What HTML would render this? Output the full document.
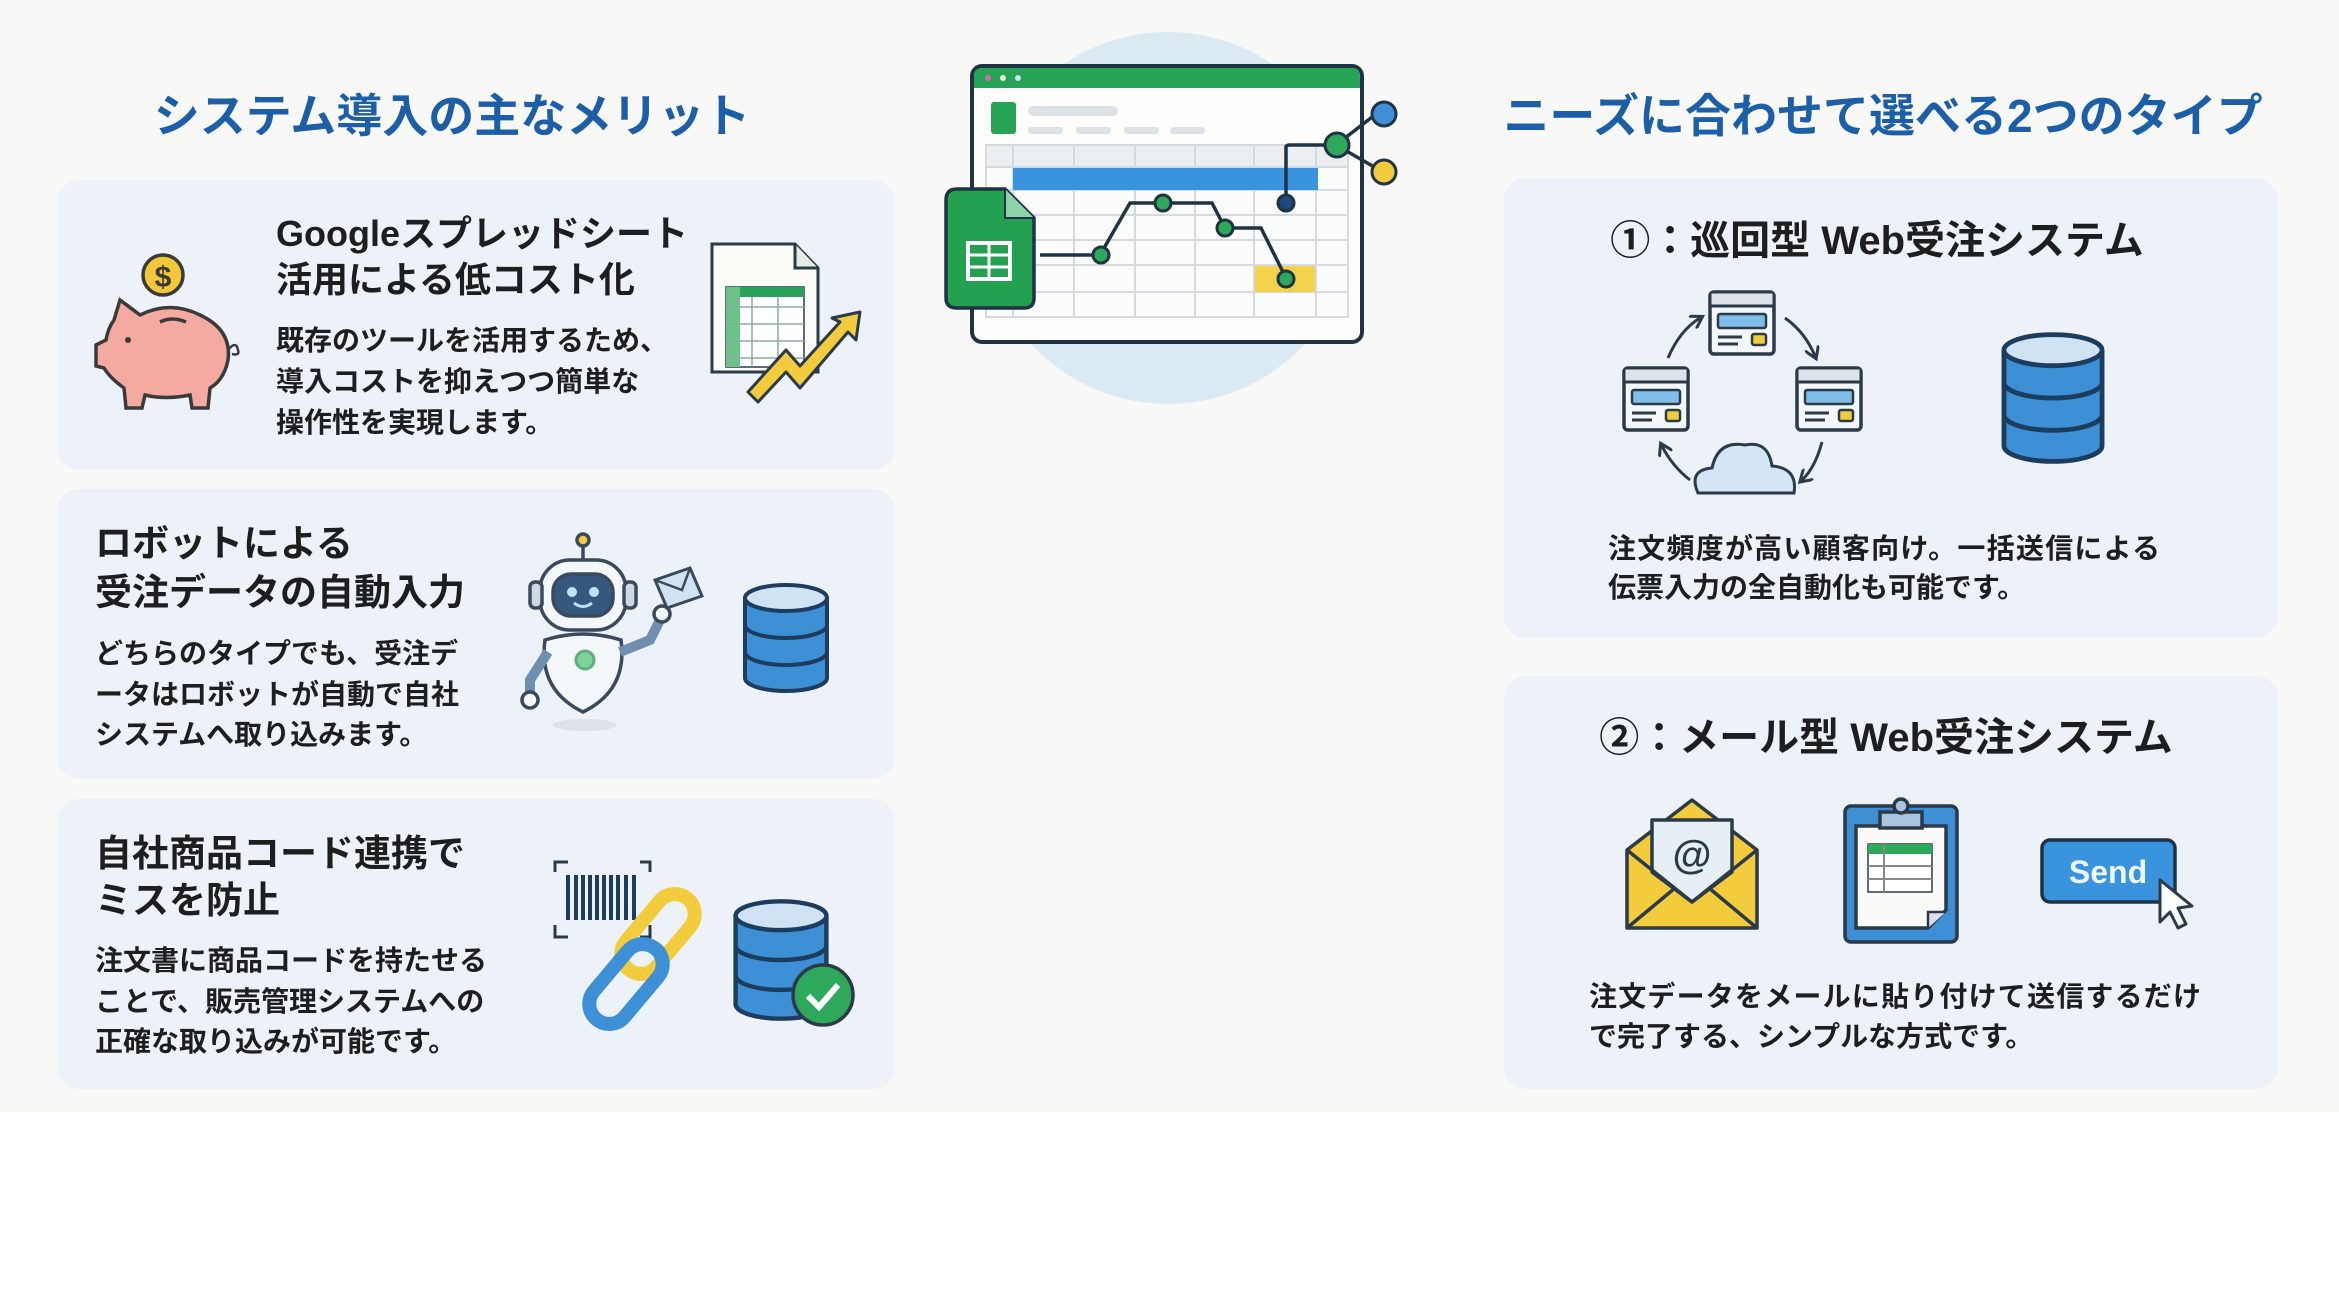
<!DOCTYPE html>
<html><head><meta charset="utf-8"><style>
html,body{margin:0;padding:0;background:#fff}
svg{display:block}
text{font-family:"Liberation Sans","Noto Sans CJK JP",sans-serif;font-weight:700}
</style></head><body>
<svg width="2339" height="1310" viewBox="0 0 2339 1310" xmlns="http://www.w3.org/2000/svg">
<defs>
<symbol id="db" viewBox="0 0 90 112">
<path d="M4 16 V96 A41 13 0 0 0 86 96 V16" fill="#3d8fd6" stroke="#1c3d5e" stroke-width="4"/>
<path d="M4 43 A41 13 0 0 0 86 43 M4 70 A41 13 0 0 0 86 70" fill="none" stroke="#1c3d5e" stroke-width="4"/>
<ellipse cx="45" cy="16" rx="41" ry="13" fill="#cfe3f5" stroke="#1c3d5e" stroke-width="4"/>
</symbol>
<symbol id="win" viewBox="0 0 68 66">
<rect x="2" y="2" width="64" height="62" rx="4" fill="#f4f7fa" stroke="#2b3a48" stroke-width="3.5"/>
<rect x="3.5" y="3.5" width="61" height="12" fill="#dde3ea"/>
<line x1="2" y1="16" x2="66" y2="16" stroke="#2b3a48" stroke-width="3"/>
<rect x="10" y="24" width="48" height="14" rx="2" fill="#7fbde9" stroke="#2b3a48" stroke-width="2.5"/>
<line x1="10" y1="47" x2="34" y2="47" stroke="#2b3a48" stroke-width="3"/>
<line x1="10" y1="54" x2="30" y2="54" stroke="#2b3a48" stroke-width="3"/>
<rect x="44" y="44" width="14" height="11" rx="2" fill="#f2cc3c" stroke="#2b3a48" stroke-width="2.5"/>
</symbol>
<marker id="ah" viewBox="0 0 10 10" refX="6" refY="5" markerWidth="5" markerHeight="5" orient="auto"><path d="M0 0 L8 5 L0 10" fill="none" stroke="#2b3a48" stroke-width="2"/></marker>
</defs>
<rect width="2339" height="1112" fill="#f8f9f6"/>
<rect y="1112" width="2339" height="198" fill="#ffffff"/>

<text x="452" y="132" font-size="46" fill="#1d5ea8" text-anchor="middle">システム導入の主なメリット</text>
<text x="1883" y="132" font-size="46" fill="#1d5ea8" text-anchor="middle">ニーズに合わせて選べる2つのタイプ</text>

<rect x="57" y="180" width="838" height="290" rx="22" fill="#edf2f8"/>
<rect x="57" y="489" width="838" height="290" rx="22" fill="#edf2f8"/>
<rect x="57" y="799" width="838" height="290" rx="22" fill="#edf2f8"/>
<rect x="1504" y="178" width="774" height="460" rx="22" fill="#edf2f8"/>
<rect x="1504" y="676" width="774" height="413" rx="22" fill="#edf2f8"/>

<g fill="#1e1e1e">
<text x="276" y="246" font-size="36">Googleスプレッドシート</text>
<text x="276" y="292" font-size="36">活用による低コスト化</text>
<text x="276" y="350" font-size="28">既存のツールを活用するため、</text>
<text x="276" y="391" font-size="28">導入コストを抑えつつ簡単な</text>
<text x="276" y="432" font-size="28">操作性を実現します。</text>
<text x="95" y="556" font-size="37">ロボットによる</text>
<text x="95" y="605" font-size="37">受注データの自動入力</text>
<text x="95" y="663" font-size="28">どちらのタイプでも、受注デ</text>
<text x="95" y="704" font-size="28">ータはロボットが自動で自社</text>
<text x="95" y="744" font-size="28">システムへ取り込みます。</text>
<text x="95" y="866" font-size="37">自社商品コード連携で</text>
<text x="95" y="913" font-size="37">ミスを防止</text>
<text x="95" y="970" font-size="28">注文書に商品コードを持たせる</text>
<text x="95" y="1011" font-size="28">ことで、販売管理システムへの</text>
<text x="95" y="1051" font-size="28">正確な取り込みが可能です。</text>
<text x="1877" y="254" font-size="40" text-anchor="middle">①：巡回型 Web受注システム</text>
<text x="1608" y="558" font-size="28" textLength="552">注文頻度が高い顧客向け。一括送信による</text>
<text x="1608" y="597" font-size="28">伝票入力の全自動化も可能です。</text>
<text x="1886" y="751" font-size="40" text-anchor="middle">②：メール型 Web受注システム</text>
<text x="1589" y="1006" font-size="28" textLength="612">注文データをメールに貼り付けて送信するだけ</text>
<text x="1589" y="1046" font-size="28">で完了する、シンプルな方式です。</text>
</g>

<g stroke="#3a3a3a" stroke-width="3.5">
<circle cx="163" cy="275" r="20" fill="#f2c83a"/>
<text x="163" y="287" font-size="30" text-anchor="middle" fill="#3a3a3a" stroke="none">$</text>
<path d="M114 320 L120 300 L140 315 Q170 300 200 315 Q232 330 228 360 Q224 380 210 388 L208 408 L192 408 L190 395 Q165 400 145 395 L142 408 L126 408 L124 388 Q110 378 104 368 L96 366 L96 345 L106 340 Q108 328 114 320 Z" fill="#f4aaa0"/>
<path d="M160 322 Q172 316 186 322" fill="none"/>
<path d="M228 350 Q236 340 238 350 Q240 356 232 354" fill="none" stroke-width="2.5"/>
</g>
<circle cx="128" cy="340" r="3" fill="#3a3a3a"/>

<g stroke="#2b3a48" stroke-width="3">
<path d="M712 244 H795 L818 268 V372 H712 Z" fill="#fbfbf8"/>
<path d="M795 244 V268 H818" fill="#e6ebe5"/>
<rect x="726" y="287" width="78" height="80" fill="#ffffff" stroke-width="1.5"/>
<rect x="726" y="287" width="78" height="10" fill="#2aa35a" stroke="none"/>
<rect x="726" y="287" width="14" height="80" fill="#6cc28a" stroke="none"/>
<path d="M726 307 H804 M726 324 H804 M726 341 H804 M726 358 H804 M752 297 V367 M778 297 V367" stroke="#8aa" stroke-width="1.5" fill="none"/>
</g>
<path d="M748 392 L786 350 L800 366 L840 322 L832 318 L860 312 L856 340 L848 332 L800 388 L786 372 L758 402 Z" fill="#f2cc3c" stroke="#2b3a48" stroke-width="3" stroke-linejoin="round"/>

<g stroke="#3a4a5c" stroke-width="3.5">
<ellipse cx="585" cy="725" rx="32" ry="6" fill="#dde2e8" stroke="none"/>
<line x1="583" y1="542" x2="583" y2="560"/>
<circle cx="583" cy="540" r="6" fill="#f2cc3c"/>
<rect x="540" y="560" width="86" height="70" rx="30" fill="#f4f7fa"/>
<rect x="530" y="582" width="12" height="26" rx="5" fill="#cfd7e0"/>
<rect x="624" y="582" width="12" height="26" rx="5" fill="#cfd7e0"/>
<rect x="553" y="574" width="60" height="42" rx="18" fill="#35587e"/>
<path d="M545 640 Q583 628 621 640 Q628 690 583 712 Q538 690 545 640 Z" fill="#f4f7fa"/>
<path d="M548 652 L530 680 L530 698" fill="none" stroke="#6f8fb0" stroke-width="10"/>
<circle cx="530" cy="700" r="8" fill="#f4f7fa"/>
<path d="M620 652 L650 640 L660 620" fill="none" stroke="#6f8fb0" stroke-width="10"/>
<circle cx="662" cy="614" r="8" fill="#f4f7fa"/>
<path d="M655 580 L690 568 L702 596 L667 608 Z" fill="#cfe3f5" stroke-width="3"/>
<path d="M655 580 L682 590 L690 568" fill="none" stroke-width="2.5"/>
<circle cx="585" cy="660" r="9" fill="#7dd39a" stroke="#5faf7a" stroke-width="3"/>
</g>
<circle cx="572" cy="592" r="5" fill="#bfe3ff"/><circle cx="594" cy="592" r="5" fill="#bfe3ff"/>
<path d="M574 603 Q583 610 592 603" fill="none" stroke="#bfe3ff" stroke-width="3"/>
<use href="#db" x="741" y="582" width="90" height="112"/>

<g stroke="#2b3a48" stroke-width="3" fill="none">
<path d="M555 872 V862 H568 M640 862 H650 V872 M555 925 V937 H568 M640 937 H650 V925"/>
<path d="M568 875 V920 M576 875 V920 M583 875 V920 M590 875 V920 M597 875 V920 M604 875 V920 M611 875 V920 M618 875 V920 M626 875 V920 M634 875 V920" stroke="#1c3d5e" stroke-width="4"/>
</g>
<g stroke="#2b3a48" stroke-width="3">
<rect x="638" y="888" width="40" height="92" rx="20" fill="none" stroke="#f2cc3c" stroke-width="14" transform="rotate(40 658 934)"/>
<rect x="606" y="938" width="40" height="92" rx="20" fill="none" stroke="#3d8fd6" stroke-width="14" transform="rotate(40 626 984)"/>
</g>
<use href="#db" x="731" y="898" width="100" height="124"/>
<circle cx="823" cy="995" r="30" fill="#2ea85a" stroke="#2b3a48" stroke-width="3.5"/>
<path d="M808 996 L819 1007 L838 985" fill="none" stroke="#fff" stroke-width="6"/>

<circle cx="1168" cy="218" r="186" fill="#dbe9f3"/>
<rect x="972" y="66" width="390" height="276" rx="10" fill="#fdfdfc" stroke="#1f3344" stroke-width="4"/>
<path d="M974 76 Q974 68 982 68 H1352 Q1360 68 1360 76 V88 H974 Z" fill="#27a356"/>
<circle cx="988" cy="78" r="3" fill="#d6a"/><circle cx="1003" cy="78" r="3" fill="#eed"/><circle cx="1018" cy="78" r="3" fill="#cde"/>
<rect x="991" y="102" width="25" height="32" rx="3" fill="#27a356"/>
<rect x="1028" y="106" width="90" height="10" rx="5" fill="#dde2e6"/>
<rect x="1028" y="127" width="35" height="7" rx="3" fill="#dde2e6"/><rect x="1076" y="127" width="35" height="7" rx="3" fill="#dde2e6"/><rect x="1124" y="127" width="35" height="7" rx="3" fill="#dde2e6"/><rect x="1170" y="127" width="35" height="7" rx="3" fill="#dde2e6"/>
<g stroke="#d5dadf" stroke-width="2" fill="none">
<rect x="986" y="145" width="362" height="172" fill="#fafbfb"/>
<rect x="986" y="145" width="362" height="22" fill="#eceff1"/>
<path d="M1013 145 V317 M1074 145 V317 M1135 145 V317 M1195 145 V317 M1254 145 V317 M1316 145 V317 M986 190 H1348 M986 215 H1348 M986 240 H1348 M986 265 H1348 M986 292 H1348"/>
</g>
<rect x="1013" y="168" width="305" height="22" fill="#3a93dd"/>
<rect x="1255" y="266" width="60" height="26" fill="#f2d24a"/>
<path d="M1040 255 H1100 L1130 203 H1212 L1225 228 H1261 L1286 278" fill="none" stroke="#1f3344" stroke-width="3.5"/>
<path d="M1286 203 V147 Q1286 145 1290 145 H1336 L1376 114 M1336 145 L1376 168" fill="none" stroke="#1f3344" stroke-width="3.5"/>
<g stroke="#1f3344" stroke-width="3">
<circle cx="1101" cy="255" r="8" fill="#2ea85a"/><circle cx="1163" cy="203" r="8" fill="#2ea85a"/><circle cx="1225" cy="228" r="8" fill="#2ea85a"/><circle cx="1286" cy="279" r="8" fill="#2ea85a"/>
<circle cx="1286" cy="203" r="8" fill="#1d4a7a"/>
<circle cx="1337" cy="145" r="12" fill="#2ea85a"/>
<circle cx="1384" cy="114" r="12" fill="#3d8fd6"/>
<circle cx="1384" cy="172" r="12" fill="#f2cc3c"/>
</g>
<path d="M946 200 Q946 189 957 189 H1005 L1034 218 V298 Q1034 308 1024 308 H957 Q946 308 946 298 Z" fill="#23a050" stroke="#1f3344" stroke-width="3.5"/>
<path d="M1005 189 V218 H1034" fill="#8fd3a8" stroke="#1f3344" stroke-width="2"/>
<rect x="968" y="243" width="42" height="36" fill="none" stroke="#fff" stroke-width="4"/>
<path d="M968 255 H1010 M968 267 H1010 M989 243 V279" stroke="#fff" stroke-width="3"/>

<use href="#win" x="1708" y="290" width="68" height="66"/>
<use href="#win" x="1622" y="366" width="68" height="66"/>
<use href="#win" x="1795" y="366" width="68" height="66"/>
<g fill="none" stroke="#2b3a48" stroke-width="3" marker-end="url(#ah)">
<path d="M1668 358 Q1680 330 1700 318"/>
<path d="M1785 318 Q1805 332 1815 356"/>
<path d="M1822 442 Q1815 468 1802 480"/>
<path d="M1690 480 Q1672 466 1662 446"/>
</g>
<path d="M1698 493 Q1688 470 1712 468 Q1718 440 1745 445 Q1768 440 1772 466 Q1798 468 1794 493 Z" fill="#d4e6f5" stroke="#2b3a48" stroke-width="3"/>
<use href="#db" x="1999" y="331" width="108" height="134"/>

<g stroke="#2b3a48" stroke-width="3.5" stroke-linejoin="round">
<path d="M1627 850 L1692 800 L1757 850 V928 H1627 Z" fill="#f2cc3c"/>
<path d="M1652 820 H1732 V872 L1692 902 L1652 872 Z" fill="#e6eef6"/>
<path d="M1627 850 L1692 902 L1757 850 M1627 928 L1675 888 M1757 928 L1709 888" fill="none"/>
</g>
<text x="1692" y="868" font-size="40" text-anchor="middle" fill="#2b3a48" font-weight="400">@</text>
<g stroke="#2b3a48" stroke-width="3.5">
<rect x="1845" y="806" width="112" height="136" rx="6" fill="#3d8fd6"/>
<path d="M1856 826 H1946 V910 L1928 928 H1856 Z" fill="#fafbf8"/>
<path d="M1928 928 V912 H1946" fill="#dde" stroke-width="2.5"/>
<path d="M1880 812 H1922 V828 H1880 Z" fill="#a9c4dc"/>
<circle cx="1901" cy="806" r="7" fill="#a9c4dc"/>
<rect x="1868" y="844" width="64" height="48" fill="#fff" stroke-width="1.5"/>
</g>
<rect x="1868" y="844" width="64" height="10" fill="#2ea85a"/>
<path d="M1868 866 H1932 M1868 879 H1932 M1884 844 V892" stroke="#888" stroke-width="2"/>
<rect x="2042" y="840" width="133" height="62" rx="8" fill="#3a93dd" stroke="#1f3344" stroke-width="3.5"/>
<text x="2108" y="883" font-size="32" fill="#eef6ff" text-anchor="middle">Send</text>
<path d="M2160 880 L2160 922 L2170 912 L2178 928 L2186 924 L2178 908 L2192 906 Z" fill="#fff" stroke="#2b3a48" stroke-width="3" stroke-linejoin="round"/>
</svg>
</body></html>
